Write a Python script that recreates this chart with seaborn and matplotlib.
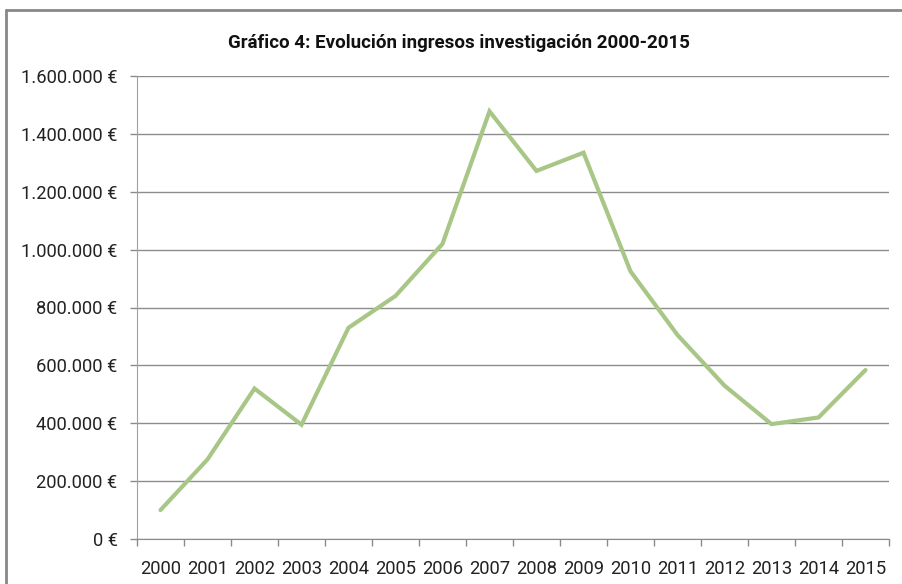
import numpy as np
import pandas as pd
import matplotlib
matplotlib.use("Agg")
import matplotlib.pyplot as plt
import seaborn as sns
from matplotlib.ticker import FuncFormatter, FixedLocator
from matplotlib.lines import Line2D

years = [str(y) for y in range(2000, 2016)]
ingresos = [100000, 275000, 520000, 395000, 730000, 840000, 1020000, 1478000,
            1272000, 1335000, 925000, 705000, 530000, 397000, 420000, 584000]
title = "Gráfico 4: Evolución ingresos investigación 2000-2015"

df = pd.DataFrame({"year": years, "ingresos": ingresos})
df["pos"] = np.arange(len(years))

sns.set_style("white")
plt.rcParams['font.family'] = ['Roboto', 'DejaVu Sans']

fig = plt.figure(figsize=(9.03, 5.84), dpi=100)
ax = fig.add_axes([137/903, 45/584, (889-137)/903, (539-76)/584])

sns.lineplot(data=df, x="pos", y="ingresos", ax=ax, color="#a8c686", linewidth=3,
             solid_joinstyle="miter")

ax.set_xlim(-0.5, len(years) - 0.5)
ax.set_ylim(0, 1600000)
ax.set_yticks(np.arange(0, 1600001, 200000))
ax.yaxis.set_major_formatter(FuncFormatter(lambda v, p: f"{int(v):,}".replace(",", ".") + " €"))
ax.set_xticks(df["pos"])
ax.set_xticklabels(years)
ax.xaxis.set_minor_locator(FixedLocator(np.arange(-0.5, len(years), 1.0)))
ax.tick_params(axis="x", which="major", length=0, pad=15, labelsize=13.2, colors="#222222")
ax.tick_params(axis="x", which="minor", length=5, width=1, color="#8a8a8a", direction="out", bottom=True)
ax.tick_params(axis="y", length=5, width=1, color="#8a8a8a", direction="out", left=True,
               pad=9, labelsize=13.2, labelcolor="#222222")

ax.grid(axis="y", color="#8c8c8c", linewidth=1)
ax.grid(axis="x", visible=False)
ax.set_axisbelow(True)
for s in ["top", "right"]:
    ax.spines[s].set_visible(False)
ax.spines["left"].set_color("#a0a0a0")
ax.spines["bottom"].set_color("#8a8a8a")
ax.set_xlabel("")
ax.set_ylabel("")

fig.text(459/903, 1 - 43/584, title, ha="center", va="center", fontsize=13.5,
         fontweight="bold", color="#111111")

# chart area frame (only top and left edges fall inside the picture)
fig.add_artist(Line2D([6/903, 1.01], [1 - 10/584, 1 - 10/584], color="#888888", linewidth=2))
fig.add_artist(Line2D([6/903, 6/903], [-0.01, 1 - 10/584], color="#888888", linewidth=2))

fig.savefig("out.png", dpi=100)
